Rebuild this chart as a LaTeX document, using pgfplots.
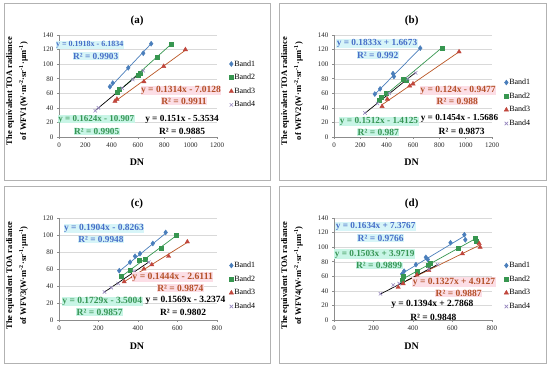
\documentclass[border=0pt]{standalone}
\usepackage{pgfplots}
\pgfplotsset{compat=1.18}
\usepackage{fontspec}
\setmainfont{Liberation Serif}
\definecolor{c1}{RGB}{74,126,187}
\definecolor{c2}{RGB}{55,150,80}
\definecolor{c3}{RGB}{192,70,60}
\definecolor{c3l}{RGB}{185,85,35}
\definecolor{c4}{RGB}{150,135,190}
\definecolor{t1}{RGB}{70,110,200}
\definecolor{t2}{RGB}{55,150,85}
\definecolor{t3}{RGB}{180,80,40}
\definecolor{f1}{RGB}{215,245,248}
\definecolor{f2}{RGB}{200,245,230}
\definecolor{f3}{RGB}{252,222,230}
\newcommand\lab[6]{\node[font=\fontsize{#1}{#1}\selectfont\bfseries, text=#4, fill=#5, inner sep=0.5pt, anchor=center] at (#2,#3) {#6};}
\newcommand\ylab[3]{\node[font=\fontsize{8.5}{14}\selectfont\bfseries, rotate=90, align=center] at (#1,#2) {The equivalent TOA radiance\\of WFV#3(W·m\textsuperscript{-2}·sr\textsuperscript{-1}·μm\textsuperscript{-1})};}
\pgfplotsset{
  panel/.style={scale only axis, width=158pt, height=102pt, anchor=south west,
    axis lines*=left, xmin=0, ymin=0,
    ymajorgrids, grid style={draw=black!15, line width=0.4pt},
    axis line style={draw=black!45, line width=0.5pt},
    tick style={draw=black!45, line width=0.5pt},
    tick align=outside, major tick length=2pt,
    tick label style={font=\fontsize{7}{8}\selectfont, text=black!85},
    /pgf/number format/assume math mode=true,
    /pgf/number format/1000 sep={},
    legend cell align=left,
    legend style={draw=none, fill=none, anchor=west, font=\fontsize{8}{9}\selectfont,
      row sep=5pt, inner sep=0pt, nodes={inner sep=0.8pt}, xshift=12pt},
    legend image code/.code={\draw[##1] plot coordinates {(2pt,0pt)};},
  },
  b1/.style={only marks, mark=diamond*, mark size=2.5pt, color=c1},
  b2/.style={only marks, mark=square*, mark size=2pt, color=c2},
  b3/.style={only marks, mark=triangle*, mark size=2.5pt, color=c3},
  b4/.style={only marks, mark=x, mark size=2.4pt, color=c4, line width=0.6pt},
  tl/.style={no marks, sharp plot, line width=0.7pt, forget plot},
}
\begin{document}
\begin{tikzpicture}[x=1pt,y=1pt]
\path[use as bounding box] (0,0) rectangle (550,366);
\draw[black!30, line width=0.5pt] (4,186) rectangle (270,363);
\draw[black!30, line width=0.5pt] (279,186) rectangle (546,363);
\draw[black!30, line width=0.5pt] (4,3) rectangle (270,180);
\draw[black!30, line width=0.5pt] (279,3) rectangle (546,180);

% ---------- (a)
\begin{axis}[panel, at={(59pt,229pt)}, xmax=1200, ymax=140,
  xtick={0,200,...,1200}, ytick={0,20,...,140},
  legend style={at={(axis description cs:1,0.515)}}]
\addplot[b1] coordinates {(387,69)(408,74)(526,95)(640,115)(700,128)};
\addplot[b2] coordinates {(440,62)(455,65)(600,85)(615,88)(745,110)(850,128)};
\addplot[b3] coordinates {(425,49)(440,52)(645,76)(795,97)(960,120)};
\addplot[b4] coordinates {(275,36)(300,40)(480,67)(560,79)(640,91)};
\addplot[tl, c1] coordinates {(387,68.0)(700,128.1)};
\addplot[tl, c2] coordinates {(440,60.6)(850,127.1)};
\addplot[tl, c3l] coordinates {(425,48.8)(960,119.1)};
\addplot[tl, black] coordinates {(275,36.2)(640,91.3)};
\legend{Band1,Band2,Band3,Band4}
\end{axis}

% ---------- (b)
\begin{axis}[panel, at={(334pt,229pt)}, xmax=1200, ymax=140,
  xtick={0,200,...,1200}, ytick={0,20,...,140},
  legend style={at={(axis description cs:1,0.333)}}]
\addplot[b1] coordinates {(310,59)(350,66)(448,87)(455,83)(655,122)};
\addplot[b2] coordinates {(345,50)(360,55)(400,60)(525,80)(545,78)(820,122)};
\addplot[b3] coordinates {(365,42)(405,52)(575,70)(600,73)(950,117)};
\addplot[b4] coordinates {(235,33)(330,46)(420,60)(560,80)(620,88)};
\addplot[tl, c1] coordinates {(310,58.5)(655,121.7)};
\addplot[tl, c2] coordinates {(345,50.8)(820,122.6)};
\addplot[tl, c3l] coordinates {(365,44.3)(950,116.9)};
\addplot[tl, black] coordinates {(235,32.6)(620,88.6)};
\legend{Band1,Band2,Band3,Band4}
\end{axis}

% ---------- (c)
\begin{axis}[panel, at={(59pt,46pt)}, xmax=800, ymax=120,
  xtick={0,200,...,800}, ytick={0,20,...,120},
  legend style={at={(axis description cs:1,0.333)}}]
\addplot[b1] coordinates {(305,58)(360,68)(385,75)(410,78)(475,90)(540,103)};
\addplot[b2] coordinates {(315,51)(360,58)(405,70)(435,72)(520,84)(595,100)};
\addplot[b3] coordinates {(330,45)(375,51)(430,60)(470,65)(555,75)(650,92)};
\addplot[b4] coordinates {(230,33)(265,38)(300,43)(380,57)(455,68)};
\addplot[tl, c1] coordinates {(305,57.3)(540,102.0)};
\addplot[tl, c2] coordinates {(315,51.0)(595,99.4)};
\addplot[tl, c3l] coordinates {(330,45.0)(650,91.3)};
\addplot[tl, black] coordinates {(230,32.9)(455,68.2)};
\legend{Band1,Band2,Band3,Band4}
\end{axis}

% ---------- (d)
\begin{axis}[panel, at={(334pt,46pt)}, xmax=800, ymax=140,
  xtick={0,200,...,800}, ytick={0,20,...,140},
  legend style={at={(axis description cs:1,0.333)}}]
\addplot[b1] coordinates {(345,63)(355,67)(415,76)(465,86)(475,83)(590,106)(660,117)(665,110)};
\addplot[b2] coordinates {(345,55)(350,60)(420,67)(475,75)(485,78)(630,99)(715,112)(720,108)};
\addplot[b3] coordinates {(325,45)(350,50)(420,62)(480,68)(650,91)(735,105)(740,100)};
\addplot[b4] coordinates {(235,36)(300,48)(330,50)(480,70)(525,76)};
\addplot[tl, c1] coordinates {(345,63.8)(665,116.0)};
\addplot[tl, c2] coordinates {(345,55.8)(720,112.2)};
\addplot[tl, c3l] coordinates {(325,48.0)(740,103.1)};
\addplot[tl, black] coordinates {(235,35.6)(525,76.0)};
\legend{Band1,Band2,Band3,Band4}
\end{axis}

% titles, axis labels
\node[font=\fontsize{11}{12}\selectfont\bfseries] at (137,345) {(a)};
\node[font=\fontsize{11}{12}\selectfont\bfseries] at (411.7,345) {(b)};
\node[font=\fontsize{11}{12}\selectfont\bfseries] at (137,162.3) {(c)};
\node[font=\fontsize{11}{12}\selectfont\bfseries] at (411.7,162.3) {(d)};
\node[font=\fontsize{10}{11}\selectfont\bfseries] at (137,203.7) {DN};
\node[font=\fontsize{10}{11}\selectfont\bfseries] at (411.7,204) {DN};
\node[font=\fontsize{10}{11}\selectfont\bfseries] at (137,19.7) {DN};
\node[font=\fontsize{10}{11}\selectfont\bfseries] at (411.7,19.7) {DN};
\ylab{17}{275}{1}
\ylab{292}{275}{2}
\ylab{17}{90.5}{3}
\ylab{292}{90.5}{4}

% equation labels (a)
\lab{8}{89.7}{321}{t1}{f1}{y = 0.1918x - 6.1834}
\lab{9.3}{95.7}{310}{t1}{f1}{R² = 0.9903}
\lab{9.5}{181}{275.3}{t3}{f3}{y = 0.1314x - 7.0128}
\lab{9.5}{184}{265}{t3}{f3}{R² = 0.9911}
\lab{9}{96.3}{247}{t2}{f2}{y = 0.1624x - 10.907}
\lab{9.3}{96.7}{234.3}{t2}{f2}{R² = 0.9905}
\lab{9.3}{182}{247}{black}{none}{y = 0.151x - 5.3534}
\lab{9.5}{182}{234.3}{black}{none}{R² = 0.9885}
% (b)
\lab{9.3}{377}{322.7}{t1}{f1}{y = 0.1833x + 1.6673}
\lab{9.5}{377.7}{311}{t1}{f1}{R² = 0.992}
\lab{9.5}{458}{275.3}{t3}{f3}{y = 0.124x - 0.9477}
\lab{9.5}{457.3}{265}{t3}{f3}{R² = 0.988}
\lab{9.3}{379}{244.3}{t2}{f2}{y = 0.1512x - 1.4125}
\lab{9.5}{378.3}{233.3}{t2}{f2}{R² = 0.987}
\lab{9.2}{459.5}{247.7}{black}{none}{y = 0.1454x - 1.5686}
\lab{9.5}{461.7}{235}{black}{none}{R² = 0.9873}
% (c)
\lab{9.5}{104}{137.3}{t1}{f1}{y = 0.1904x - 0.8263}
\lab{9.3}{101}{126.3}{t1}{f1}{R² = 0.9948}
\lab{9.7}{172.7}{89}{t3}{f3}{y = 0.1444x - 2.6111}
\lab{9.5}{180.3}{78}{t3}{f3}{R² = 0.9874}
\lab{9.5}{102.3}{64.7}{t2}{f2}{y = 0.1729x - 3.5004}
\lab{9.5}{99.7}{54}{t2}{f2}{R² = 0.9857}
\lab{9.5}{185.5}{65.3}{black}{none}{y = 0.1569x - 3.2374}
\lab{9.5}{183}{54}{black}{none}{R² = 0.9802}
% (d)
\lab{9.2}{375.7}{139.7}{t1}{f1}{y = 0.1634x + 7.3767}
\lab{9.5}{380.7}{128}{t1}{f1}{R² = 0.9766}
\lab{9.2}{374.7}{112}{t2}{f2}{y = 0.1503x + 3.9719}
\lab{9.5}{379}{100.3}{t2}{f2}{R² = 0.9899}
\lab{9.5}{454}{84}{t3}{f3}{y = 0.1327x + 4.9127}
\lab{9.5}{458.7}{72.3}{t3}{f3}{R² = 0.9887}
\lab{9.5}{432.3}{61.3}{black}{none}{y = 0.1394x + 2.7868}
\lab{9.5}{433.3}{49}{black}{none}{R² = 0.9848}
\end{tikzpicture}
\end{document}
